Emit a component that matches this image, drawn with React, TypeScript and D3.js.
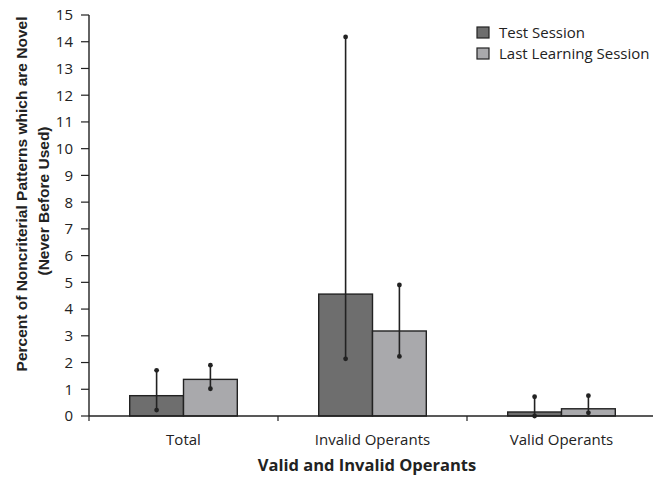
import React from "react";
import * as d3 from "d3";

const categories = ["Total", "Invalid Operants", "Valid Operants"];
const seriesNames = ["Test Session", "Last Learning Session"];
const testValues = [0.76, 4.56, 0.15];
const testLow = [0.22, 2.14, 0.0];
const testHigh = [1.71, 14.18, 0.72];
const lastValues = [1.37, 3.18, 0.27];
const lastLow = [1.02, 2.23, 0.12];
const lastHigh = [1.9, 4.9, 0.76];
const yTicks = d3.range(0, 16);

const colors = ["#6e6e6e", "#a9a9ac"];
const font = "'Open Sans', 'DejaVu Sans', sans-serif";
const titleFont = "'Liberation Sans', Arial, sans-serif";

export default function App() {
  const W = 653, H = 477;
  const x0 = 89, x1 = 656, yTop = 15, yBot = 416;
  const x = d3.scaleBand().domain(categories).range([x0, x1]);
  const y = d3.scaleLinear().domain([0, 15]).range([yBot, yTop]);
  const barW = 53.8;
  const series = [
    { vals: testValues, lo: testLow, hi: testHigh },
    { vals: lastValues, lo: lastLow, hi: lastHigh },
  ];
  return (
    <svg width={W} height={H} style={{ position: "absolute", left: 0, top: 0, background: "#fff" }} fontFamily={font}>
      {series.map((s, si) =>
        categories.map((c, ci) => {
          const cx = x(c)! + x.bandwidth() / 2;
          const bx = cx - barW + si * barW;
          const mid = bx + barW / 2;
          return (
            <g key={`${si}-${ci}`}>
              <rect x={bx} y={y(s.vals[ci])} width={barW} height={yBot - y(s.vals[ci])} fill={colors[si]} stroke="#222" strokeWidth={1.4} />
              <line x1={mid} x2={mid} y1={y(s.hi[ci])} y2={y(s.lo[ci])} stroke="#222" strokeWidth={1.6} />
              <circle cx={mid} cy={y(s.hi[ci])} r={2.4} fill="#222" />
              <circle cx={mid} cy={y(s.lo[ci])} r={2.4} fill="#222" />
            </g>
          );
        })
      )}
      {/* y axis */}
      <line x1={x0} x2={x0} y1={yTop} y2={yBot} stroke="#222" strokeWidth={1.4} />
      {yTicks.map((t) => (
        <g key={t}>
          <line x1={x0 - 8} x2={x0} y1={y(t)} y2={y(t)} stroke="#222" strokeWidth={1.2} />
          <text x={x0 - 16} y={y(t)} dy="0.36em" textAnchor="end" fontSize={15} fill="#222">{t}</text>
        </g>
      ))}
      {/* x axis */}
      <line x1={x0} x2={x1} y1={yBot} y2={yBot} stroke="#222" strokeWidth={1.4} />
      {categories.map((c, i) => (
        <g key={c}>
          {i > 0 && <line x1={x(c)!} x2={x(c)!} y1={yBot} y2={yBot + 5} stroke="#222" strokeWidth={1.2} />}
          <text x={x(c)! + x.bandwidth() / 2} y={445} textAnchor="middle" fontSize={15} fill="#222">{c}</text>
        </g>
      ))}
      <line x1={x0} x2={x0} y1={yBot} y2={yBot + 5} stroke="#222" strokeWidth={1.2} />
      <text x={367} y={471} textAnchor="middle" fontSize={16.5} fontWeight="bold" fill="#222">Valid and Invalid Operants</text>
      <text transform="translate(27,194) rotate(-90)" textAnchor="middle" fontSize={15.5} fontWeight="bold" fill="#222" fontFamily={titleFont}>
        Percent of Noncriterial Patterns which are Novel
      </text>
      <text transform="translate(49,201) rotate(-90)" textAnchor="middle" fontSize={15.5} fontWeight="bold" fill="#222" fontFamily={titleFont}>
        (Never Before Used)
      </text>
      {/* legend */}
      {seriesNames.map((n, i) => (
        <g key={n} transform={`translate(477,${27 + i * 21})`}>
          <rect x={0} y={0} width={12} height={11} fill={colors[i]} stroke="#222" strokeWidth={1.2} />
          <text x={22} y={6} dy="0.36em" fontSize={15} fill="#222">{n}</text>
        </g>
      ))}
    </svg>
  );
}
